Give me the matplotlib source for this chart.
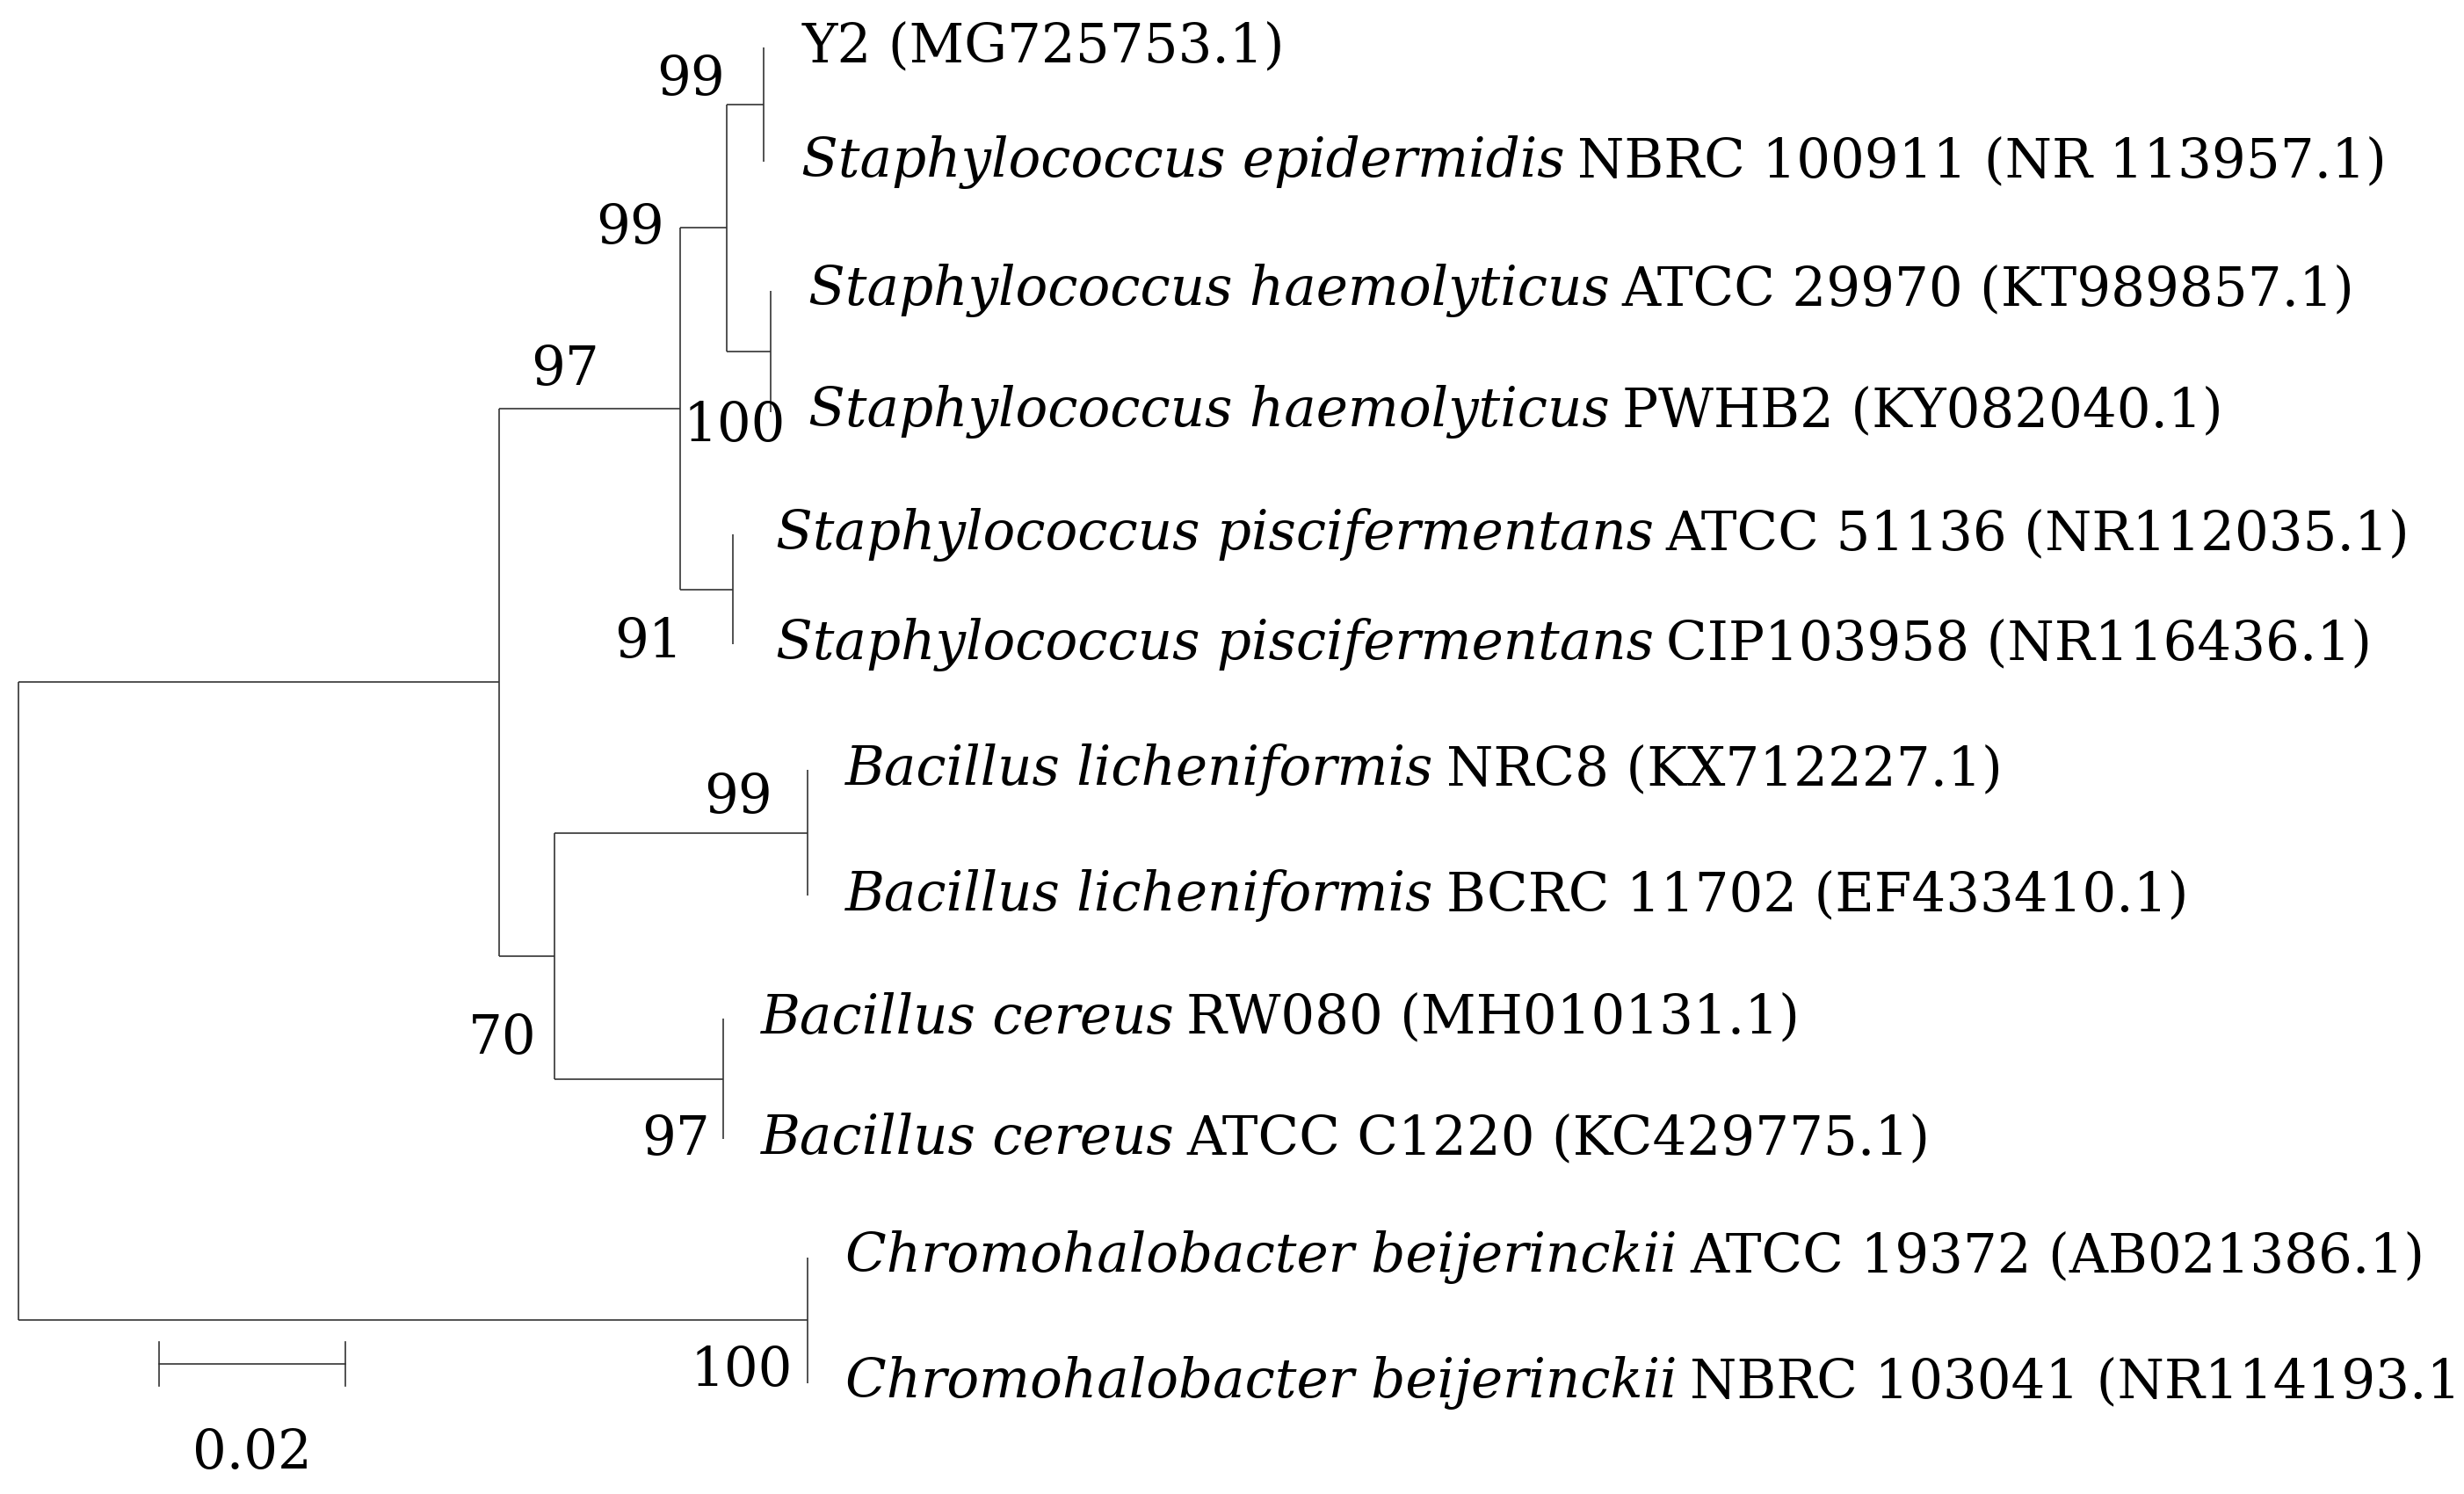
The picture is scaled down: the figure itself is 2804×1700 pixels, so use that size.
import matplotlib
matplotlib.use("Agg")
import matplotlib.pyplot as plt

# ---- data ----
leaf_italic = ["", "Staphylococcus epidermidis", "Staphylococcus haemolyticus", "Staphylococcus haemolyticus",
               "Staphylococcus piscifermentans", "Staphylococcus piscifermentans",
               "Bacillus licheniformis", "Bacillus licheniformis", "Bacillus cereus", "Bacillus cereus",
               "Chromohalobacter beijerinckii", "Chromohalobacter beijerinckii"]
leaf_plain = ["Y2 (MG725753.1)", "NBRC 100911 (NR 113957.1)", "ATCC 29970 (KT989857.1)", "PWHB2 (KY082040.1)",
              "ATCC 51136 (NR112035.1)", "CIP103958 (NR116436.1)", "NRC8 (KX712227.1)",
              "BCRC 11702 (EF433410.1)", "RW080 (MH010131.1)", "ATCC C1220 (KC429775.1)",
              "ATCC 19372 (AB021386.1)", "NBRC 103041 (NR114193.1)"]
leaf_rows = [30, 103, 185, 262, 340, 410, 490, 570, 648, 725, 800, 880]
# tree nodes: (name, branch_length, children or leaf index, bootstrap)
tree = ("root", 0.0, [
    ("A", 0.0514, [
        ("N433", 0.0193, [
            ("B", 0.0050, [
                ("C", 0.0040, [("l", 0.0, 0, None), ("l", 0.0, 1, None)], 99),
                ("haem", 0.0047, [("l", 0.0, 2, None), ("l", 0.0, 3, None)], 100),
            ], 99),
            ("pisci", 0.0057, [("l", 0.0005, 4, None), ("l", 0.0005, 5, None)], 91),
        ], 97),
        ("bac", 0.0059, [
            ("lich", 0.0271, [("l", 0.0, 6, None), ("l", 0.0, 7, None)], 99),
            ("cer", 0.0180, [("l", 0.0, 8, None), ("l", 0.0, 9, None)], 97),
        ], 70),
    ], None),
    ("chromo", 0.0844, [("l", 0.0, 10, None), ("l", 0.0, 11, None)], 100),
], None)
scale_len = 0.02
scale_label = "0.02"

K = 2804 / 1568
S = 5950.0 * K
X0 = 12 * K
fig = plt.figure(figsize=(28.04, 17), dpi=100)
ax = fig.add_axes([0, 0, 1, 1])
ax.set_xlim(0, 2804); ax.set_ylim(1700, 0); ax.axis("off")
lw = 1.2
col = "#333333"
fs = 44
serif = ["DejaVu Serif"]

# bootstrap label offsets in reference px: (dx from parent x, dy from node y, ha)
boot_off = {"C": (-1, -16, "right"), "B": (-10, 0, "right"), "haem": (5, 47, "center"),
            "N433": (42, -25, "center"), "pisci": (-20, 33, "center"), "bac": (2, 52, "center"),
            "lich": (117, -23, "center"), "cer": (77, 38, "center"), "chromo": (460, 32, "center")}

texts = []
def draw(node, xparent):
    name, bl, ch, bs = node
    x = xparent + bl * S
    if isinstance(ch, int):
        y = leaf_rows[ch] * K
        texts.append((x, y, ch))
        return x, y
    ys = [draw(c, x)[1] for c in ch]
    y = (ys[0] + ys[-1]) / 2
    ax.plot([x, x], [ys[0], ys[-1]], color=col, lw=lw, solid_capstyle="butt")
    if node is not tree:
        ax.plot([xparent, x], [y, y], color=col, lw=lw, solid_capstyle="butt")
    if bs is not None:
        dx, dy, ha = boot_off[name]
        ax.text(xparent + dx * K, y + dy * K, str(bs), fontsize=fs, family=serif,
                ha=ha, va="center")
    return x, y

draw(tree, X0)
fig.canvas.draw()
r = fig.canvas.get_renderer()
for x, y, i in texts:
    xs = x + 24 * K
    if leaf_italic[i]:
        t = ax.text(xs, y, leaf_italic[i], fontsize=fs, family=serif, style="italic", va="center")
        bb = t.get_window_extent(renderer=r)
        xs = bb.x1 + 14
    ax.text(xs, y, leaf_plain[i], fontsize=fs, family=serif, va="center")

# scale bar
sx0, sy = 101 * K, 868 * K
ax.plot([sx0, sx0 + scale_len * S], [sy, sy], color=col, lw=lw)
for xx in (sx0, sx0 + scale_len * S):
    ax.plot([xx, xx], [sy - 14 * K, sy + 14 * K], color=col, lw=lw)
ax.text(sx0 + scale_len * S / 2, 925 * K, scale_label, fontsize=fs, family=serif, ha="center", va="center")
fig.savefig("out.png", dpi=100, facecolor="white")
